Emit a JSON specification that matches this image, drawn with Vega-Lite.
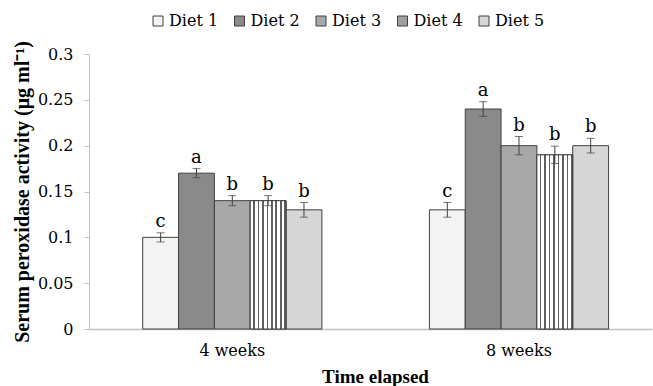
{
  "$schema": "https://vega.github.io/schema/vega-lite/v6.json",
  "width": 563,
  "height": 275,
  "autosize": {"type": "none"},
  "padding": {"left": 89, "top": 54, "right": 1, "bottom": 57},
  "background": "white",
  "config": {
    "font": "DejaVu Serif",
    "axis": {"labelFont": "DejaVu Serif", "titleFont": "Liberation Serif"},
    "legend": {"labelFont": "DejaVu Serif"},
    "text": {"font": "DejaVu Serif"},
    "view": {"stroke": null}
  },
  "data": {
    "values": [
      {"time": "4 weeks", "diet": "Diet 1", "value": 0.10, "lo": 0.095, "hi": 0.105, "letter": "c"},
      {"time": "4 weeks", "diet": "Diet 2", "value": 0.17, "lo": 0.165, "hi": 0.175, "letter": "a"},
      {"time": "4 weeks", "diet": "Diet 3", "value": 0.14, "lo": 0.1345, "hi": 0.1455, "letter": "b"},
      {"time": "4 weeks", "diet": "Diet 4", "value": 0.14, "lo": 0.1345, "hi": 0.1455, "letter": "b"},
      {"time": "4 weeks", "diet": "Diet 5", "value": 0.13, "lo": 0.122, "hi": 0.138, "letter": "b"},
      {"time": "8 weeks", "diet": "Diet 1", "value": 0.13, "lo": 0.122, "hi": 0.138, "letter": "c"},
      {"time": "8 weeks", "diet": "Diet 2", "value": 0.24, "lo": 0.232, "hi": 0.248, "letter": "a"},
      {"time": "8 weeks", "diet": "Diet 3", "value": 0.20, "lo": 0.19, "hi": 0.21, "letter": "b"},
      {"time": "8 weeks", "diet": "Diet 4", "value": 0.19, "lo": 0.1805, "hi": 0.1995, "letter": "b"},
      {"time": "8 weeks", "diet": "Diet 5", "value": 0.20, "lo": 0.192, "hi": 0.208, "letter": "b"}
    ]
  },
  "encoding": {
    "x": {
      "field": "time",
      "type": "nominal",
      "scale": {"paddingInner": 0.375, "paddingOuter": 0.1694, "align": 0.553},
      "axis": {
        "title": "Time elapsed",
        "titleFontSize": 19,
        "titleFontWeight": "bold",
        "titleColor": "black",
        "titleX": 286,
        "titleY": 53,
        "titleBaseline": "alphabetic",
        "labelAngle": 0,
        "labelFontSize": 16,
        "labelColor": "black",
        "labelPadding": 13,
        "ticks": false,
        "domainColor": "#c0c0c0",
        "domainWidth": 1.5
      }
    },
    "xOffset": {"field": "diet", "type": "nominal", "scale": {"domain": ["Diet 1", "Diet 2", "Diet 3", "Diet 4", "Diet 5"], "paddingInner": 0, "paddingOuter": 0}}
  },
  "layer": [
    {
      "mark": {"type": "bar", "stroke": "#404040", "strokeWidth": 1},
      "encoding": {
        "y": {
          "field": "value",
          "type": "quantitative",
          "scale": {"domain": [0, 0.3], "nice": false},
          "axis": {
            "title": "Serum peroxidase activity (μg ml⁻¹)",
            "titleFontSize": 20,
            "titleFontWeight": "bold",
            "titleColor": "black",
            "titleX": -57,
            "titleY": 137.5,
            "titleBaseline": "bottom",
            "titleAlign": "center",
            "titleAngle": -90,
            "values": [0, 0.05, 0.1, 0.15, 0.2, 0.25, 0.3],
            "format": "~g",
            "labelFontSize": 16,
            "labelColor": "black",
            "labelPadding": 11,
            "tickSize": 5,
            "tickColor": "#c0c0c0",
            "domainColor": "#c0c0c0",
            "grid": false
          }
        },
        "fill": {
          "field": "diet",
          "type": "nominal",
          "scale": {
            "domain": ["Diet 1", "Diet 2", "Diet 3", "Diet 4", "Diet 5"],
            "range": ["#f3f3f3", "#8a8a8a", "#a8a8a8", "#a0a0a0", "#d6d6d6"]
          },
          "legend": {
            "title": null,
            "orient": "none",
            "legendX": 61,
            "legendY": -41,
            "direction": "horizontal",
            "symbolType": "square",
            "symbolSize": 100,
            "symbolStrokeColor": "#404040",
            "symbolStrokeWidth": 1,
            "labelFontSize": 16,
            "labelColor": "black",
            "labelOffset": 3,
            "columnPadding": 12.5
          }
        }
      }
    },
    {
      "transform": [{"filter": "datum.diet === 'Diet 4'"}],
      "mark": {
        "type": "bar",
        "stroke": "#404040",
        "strokeWidth": 1,
        "fill": {
          "gradient": "linear",
          "x1": 0, "y1": 0, "x2": 1, "y2": 0,
          "stops": [
            {"offset": 0, "color": "#ffffff"}, {"offset": 0.08, "color": "#ffffff"}, {"offset": 0.08, "color": "#606060"}, {"offset": 0.125, "color": "#606060"},
            {"offset": 0.125, "color": "#ffffff"}, {"offset": 0.205, "color": "#ffffff"}, {"offset": 0.205, "color": "#606060"}, {"offset": 0.25, "color": "#606060"},
            {"offset": 0.25, "color": "#ffffff"}, {"offset": 0.33, "color": "#ffffff"}, {"offset": 0.33, "color": "#606060"}, {"offset": 0.375, "color": "#606060"},
            {"offset": 0.375, "color": "#ffffff"}, {"offset": 0.455, "color": "#ffffff"}, {"offset": 0.455, "color": "#606060"}, {"offset": 0.5, "color": "#606060"},
            {"offset": 0.5, "color": "#ffffff"}, {"offset": 0.58, "color": "#ffffff"}, {"offset": 0.58, "color": "#606060"}, {"offset": 0.625, "color": "#606060"},
            {"offset": 0.625, "color": "#ffffff"}, {"offset": 0.705, "color": "#ffffff"}, {"offset": 0.705, "color": "#606060"}, {"offset": 0.75, "color": "#606060"},
            {"offset": 0.75, "color": "#ffffff"}, {"offset": 0.83, "color": "#ffffff"}, {"offset": 0.83, "color": "#606060"}, {"offset": 0.875, "color": "#606060"},
            {"offset": 0.875, "color": "#ffffff"}, {"offset": 0.955, "color": "#ffffff"}, {"offset": 0.955, "color": "#606060"}, {"offset": 1, "color": "#606060"}
          ]
        }
      },
      "encoding": {
        "y": {"field": "value", "type": "quantitative"}
      }
    },
    {
      "mark": {"type": "rule", "color": "#404040", "strokeWidth": 1},
      "encoding": {
        "y": {"field": "lo", "type": "quantitative"},
        "y2": {"field": "hi"}
      }
    },
    {
      "mark": {"type": "tick", "color": "#404040", "size": 8, "thickness": 1, "orient": "horizontal"},
      "encoding": {"y": {"field": "lo", "type": "quantitative"}}
    },
    {
      "mark": {"type": "tick", "color": "#404040", "size": 8, "thickness": 1, "orient": "horizontal"},
      "encoding": {"y": {"field": "hi", "type": "quantitative"}}
    },
    {
      "mark": {"type": "text", "fontSize": 18, "baseline": "alphabetic", "dy": -6, "color": "black"},
      "encoding": {
        "y": {"field": "hi", "type": "quantitative"},
        "text": {"field": "letter"}
      }
    }
  ]
}
